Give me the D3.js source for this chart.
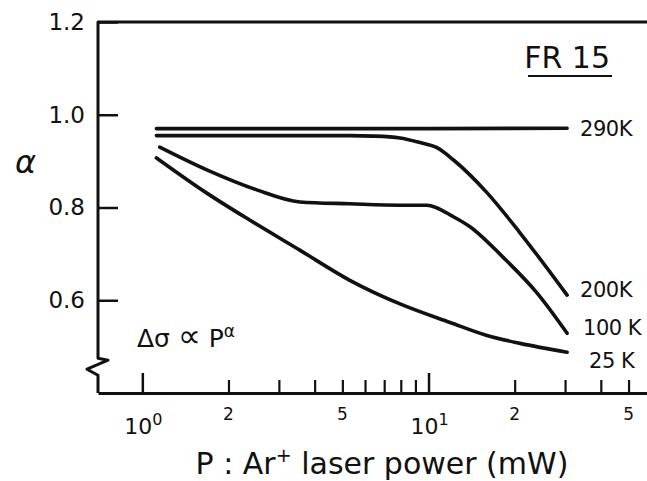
<!DOCTYPE html>
<html>
<head>
  <meta charset="utf-8">
  <title>FR 15 - alpha vs laser power</title>
  <script src="https://d3js.org/d3.v7.min.js"></script>
  <style>
    body { margin: 0; background: #fff; }
    text { font-family: "DejaVu Sans", sans-serif; fill: #111; }
  </style>
</head>
<body>
  <div id="chart"></div>
  <script>
    // Datos: P (mW) y exponente alpha para cada temperatura
    const power290 = [1.12, 3.0, 10.0, 30.5];
    const alpha290 = [0.970, 0.970, 0.970, 0.971];

    const power200 = [1.12, 2.5, 5.3, 6.4, 7.95, 9.34, 10.7, 12.2, 16.0, 20.9, 30.5];
    const alpha200 = [0.955, 0.955, 0.955, 0.954, 0.950, 0.940, 0.929, 0.903, 0.832, 0.745, 0.611];

    const power100 = [1.15, 1.68, 2.51, 3.55, 5.31, 7.95, 9.88, 10.7, 11.9, 14.0, 18.2, 24.0, 30.5];
    const alpha100 = [0.930, 0.881, 0.838, 0.812, 0.808, 0.805, 0.805, 0.799, 0.784, 0.758, 0.693, 0.615, 0.529];

    const power25 = [1.12, 1.68, 2.37, 3.55, 5.31, 7.95, 11.9, 16.0, 20.9, 30.5];
    const alpha25 = [0.907, 0.831, 0.773, 0.708, 0.643, 0.592, 0.552, 0.524, 0.507, 0.488];

    const seriesNames = ["290K", "200K", "100 K", "25 K"];

    // Ticks
    const yTicks = [0.6, 0.8, 1.0, 1.2];
    const xMajorTicks = [1, 10];
    const xMajorExp = ["0", "1"];
    const xMinorTicks = [2, 3, 4, 5, 6, 7, 8, 9, 20, 30, 40, 50];
    const xMinorLabels = [2, 5, 20, 50];

    // Configuracion del grafico
    const margin = {top: 22, right: 0, bottom: 88, left: 98};
    const width = 647 - margin.left - margin.right;
    const height = 481 - margin.top - margin.bottom;

    const x = d3.scaleLog().domain([0.7, 58]).range([0, width]);
    const y = d3.scaleLinear().domain([0.4, 1.2]).range([height, 0]);

    const svg = d3.select("#chart")
      .append("svg")
      .attr("width", 647)
      .attr("height", 481)
      .append("g")
      .attr("transform", `translate(${margin.left}, ${margin.top})`);

    // Eje X: ticks hacia dentro
    const xMajorAxis = d3.axisBottom(x).tickValues(xMajorTicks).tickSize(-20).tickSizeOuter(0).tickFormat("");
    const xMinorAxis = d3.axisBottom(x).tickValues(xMinorTicks).tickSize(-13).tickSizeOuter(0).tickFormat("");

    const gxMinor = svg.append("g").attr("transform", `translate(0, ${height})`).call(xMinorAxis);
    gxMinor.select(".domain").remove();
    gxMinor.selectAll(".tick line").attr("stroke", "#111").attr("stroke-width", 2.2);

    const gxMajor = svg.append("g").attr("transform", `translate(0, ${height})`).call(xMajorAxis);
    gxMajor.select(".domain").attr("stroke", "#111").attr("stroke-width", 3);
    gxMajor.selectAll(".tick line").attr("stroke", "#111").attr("stroke-width", 2.5);

    // Etiquetas del eje X (10^n y digitos pequenos)
    xMajorTicks.forEach((v, i) => {
      const t = svg.append("text")
        .attr("x", x(v) + 1)
        .attr("y", height + 41)
        .attr("text-anchor", "middle")
        .style("font-size", "22px");
      t.append("tspan").text("10");
      t.append("tspan").attr("dy", -9).style("font-size", "16px").text(xMajorExp[i]);
    });

    svg.selectAll(".minorLabel")
      .data(xMinorLabels)
      .enter()
      .append("text")
      .attr("x", d => x(d))
      .attr("y", height + 27)
      .attr("text-anchor", "middle")
      .style("font-size", "17px")
      .text(d => String(d)[0]);

    // Eje Y
    const yAxis = d3.axisLeft(y).tickValues(yTicks).tickSize(-20).tickPadding(13).tickFormat(d3.format(".1f"));
    const gy = svg.append("g").call(yAxis);
    gy.select(".domain").remove();
    gy.selectAll(".tick line").attr("stroke", "#111").attr("stroke-width", 2.5);
    gy.selectAll(".tick text").style("font-size", "23px").style("font-family", "DejaVu Sans").attr("fill", "#111");

    // Linea del eje Y con corte y borde superior
    const yb = y(0.475);
    svg.append("path")
      .attr("d", `M${width},${y(1.2)} H0 V${yb} L10,${yb + 2} L-11,${yb + 11} L0,${yb + 17} V${height}`)
      .attr("fill", "none")
      .attr("stroke", "#111")
      .attr("stroke-width", 3)
      .attr("stroke-linejoin", "round");

    // Curvas
    const series = [
      {p: power290, a: alpha290},
      {p: power200, a: alpha200},
      {p: power100, a: alpha100},
      {p: power25, a: alpha25}
    ];

    const line = d3.line()
      .x(d => x(d[0]))
      .y(d => y(d[1]))
      .curve(d3.curveMonotoneX);

    series.forEach(s => {
      svg.append("path")
        .datum(d3.zip(s.p, s.a))
        .attr("fill", "none")
        .attr("stroke", "#111")
        .attr("stroke-width", 3.6)
        .attr("stroke-linecap", "round")
        .attr("d", line);
    });

    // Etiquetas de las curvas
    const labelDx = [13, 13, 16, 22];
    const labelDy = [8, 2, 2, 16];
    series.forEach((s, i) => {
      const n = s.p.length - 1;
      svg.append("text")
        .attr("x", x(s.p[n]) + labelDx[i])
        .attr("y", y(s.a[n]) + labelDy[i])
        .style("font-size", "21px")
        .style("letter-spacing", "-0.5px")
        .text(seriesNames[i]);
    });

    // Titulo FR 15 subrayado
    svg.append("text")
      .attr("x", width - 37)
      .attr("y", 46)
      .attr("text-anchor", "end")
      .style("font-size", "30px")
      .text("FR 15");
    svg.append("line")
      .attr("x1", width - 119).attr("x2", width - 35)
      .attr("y1", 54).attr("y2", 54)
      .attr("stroke", "#111").attr("stroke-width", 2);

    // Formula
    const f = svg.append("text")
      .attr("x", 39)
      .attr("y", 325)
      .style("font-size", "25px");
    f.append("tspan").text("Δσ ");
    f.append("tspan").style("font-size", "32px").text("∝");
    f.append("tspan").text(" P");
    f.append("tspan").attr("dy", -10).style("font-size", "17px").text("α");

    // Titulo eje Y
    svg.append("text")
      .attr("x", -83)
      .attr("y", 151)
      .style("font-size", "32px")
      .style("font-style", "italic")
      .text("α");

    // Titulo eje X
    const xt = svg.append("text")
      .attr("x", 284)
      .attr("y", 452)
      .attr("text-anchor", "middle")
      .style("font-size", "30px");
    xt.append("tspan").text("P : Ar");
    xt.append("tspan").attr("dy", -12).style("font-size", "19px").text("+");
    xt.append("tspan").attr("dy", 12).text(" laser power (mW)");
  </script>
</body>
</html>
